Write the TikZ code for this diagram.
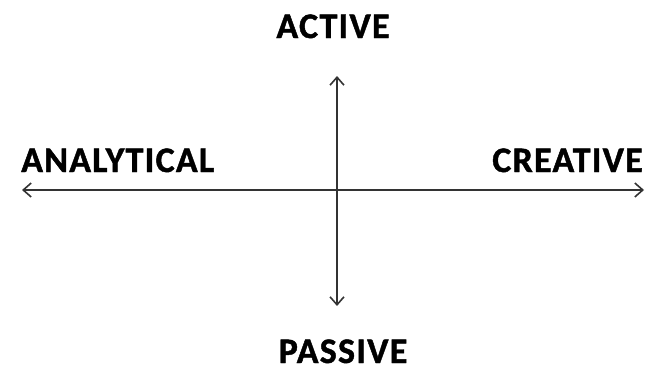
\documentclass[tikz,border=0pt]{standalone}
\usepackage{fontspec}
\setmainfont{Carlito}[LetterSpace=3.5,FakeBold=1.2]
\usetikzlibrary{arrows.meta,math}

\begin{document}
\begin{tikzpicture}[x=1pt,y=-1pt,
    axis/.style={draw=black!80,line width=1.6pt,{Straight Barb[length=8pt,width=14pt]}-{Straight Barb[length=8pt,width=14pt]}},
    label/.style={inner sep=0pt,font=\bfseries\fontsize{36}{40}\selectfont}]
  \tikzmath{
    real \cx, \cy;
    \cx = 337; \cy = 190;
  }
  \useasboundingbox (0,0) rectangle (646,372);

  \coordinate (west) at (22,\cy);
  \coordinate (east) at (644,\cy);
  \coordinate (north) at (\cx,76);
  \coordinate (south) at (\cx,306);

  \draw[axis] (west) -- (east);
  \draw[axis] (north) -- (south);

  \node[label,anchor=base] (active) at (333,38) {ACTIVE};
  \node[label,anchor=base] (passive) at (343,363) {PASSIVE};
  \node[label,anchor=base west] (analytical) at (21,172) {ANALYTICAL};
  \node[label,anchor=base east] (creative) at (643,172) {CREATIVE};
\end{tikzpicture}
\end{document}
